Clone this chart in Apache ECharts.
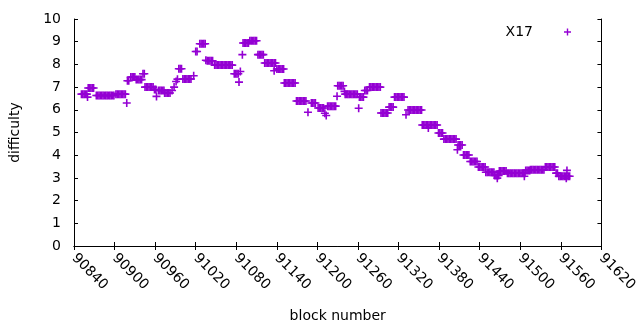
<!DOCTYPE html>
<html>
<head>
<meta charset="utf-8">
<script src="https://cdn.jsdelivr.net/npm/echarts@6/dist/echarts.min.js"></script>
<style>
  html, body { margin: 0; padding: 0; background: #fff; }
  #chart { width: 640px; height: 330px; }
</style>
</head>
<body>
<div id="chart"></div>
<script>
// 区块难度数据 [block number, difficulty]
const points = [
  [90851, 6.69], [90853, 6.69], [90855, 6.69], [90857, 6.69], [90859, 6.69], [90860, 6.56],
  [90861, 6.96], [90863, 6.96], [90865, 6.96], [90867, 6.96], [90869, 6.96],
  [90873, 6.63], [90875, 6.63], [90877, 6.63], [90879, 6.63], [90881, 6.63], [90883, 6.63], [90885, 6.63],
  [90887, 6.63], [90889, 6.63], [90891, 6.63], [90893, 6.63], [90895, 6.63], [90897, 6.63], [90899, 6.63],
  [90902, 6.69], [90904, 6.69], [90906, 6.69], [90908, 6.69], [90910, 6.69], [90912, 6.69], [90914, 6.69], [90916, 6.69],
  [90918, 6.30], [90919, 7.28], [90921, 7.28],
  [90924, 7.44], [90926, 7.44], [90928, 7.44], [90930, 7.44],
  [90932, 7.33], [90934, 7.33], [90936, 7.33], [90938, 7.33], [90940, 7.33],
  [90942, 7.59], [90944, 7.59],
  [90945, 7.0], [90947, 7.0], [90949, 7.0], [90951, 7.0], [90953, 7.0], [90955, 7.0], [90957, 7.0],
  [90959, 6.89], [90961, 6.89], [90962, 6.59],
  [90965, 6.85], [90967, 6.85], [90969, 6.85], [90971, 6.85], [90973, 6.85],
  [90974, 6.74], [90976, 6.74], [90978, 6.74], [90980, 6.74], [90982, 6.74],
  [90985, 6.85], [90988, 7.0], [90991, 7.25], [90993, 7.35],
  [90995, 7.81], [90997, 7.81], [90999, 7.81],
  [91001, 7.36], [91003, 7.36], [91005, 7.36], [91007, 7.36], [91009, 7.36], [91011, 7.36], [91013, 7.36],
  [91017, 7.50], [91020, 8.57], [91022, 8.57],
  [91026, 8.91], [91028, 8.91], [91030, 8.91], [91032, 8.91], [91034, 8.91],
  [91035, 8.18], [91037, 8.16], [91039, 8.16], [91041, 8.16], [91043, 8.16], [91045, 8.16],
  [91048, 7.97], [91050, 7.97], [91052, 7.97], [91054, 7.97], [91056, 7.97], [91058, 7.97], [91060, 7.97],
  [91062, 7.97], [91064, 7.97], [91066, 7.97], [91068, 7.97], [91070, 7.97], [91072, 7.97], [91074, 7.97],
  [91077, 7.59], [91079, 7.59], [91081, 7.59], [91083, 7.59],
  [91084, 7.22], [91086, 7.69], [91089, 8.43],
  [91090, 8.94], [91092, 8.94], [91094, 8.94], [91096, 8.94], [91098, 8.94],
  [91100, 9.04], [91102, 9.04], [91104, 9.04], [91106, 9.04], [91108, 9.04], [91110, 9.04],
  [91112, 8.43], [91114, 8.43], [91116, 8.43], [91118, 8.43], [91120, 8.43],
  [91122, 8.06], [91124, 8.06], [91126, 8.06], [91128, 8.06], [91130, 8.06], [91132, 8.06], [91134, 8.06],
  [91136, 8.06], [91138, 8.06], [91136, 7.72],
  [91140, 7.80], [91142, 7.80], [91144, 7.80], [91146, 7.80], [91148, 7.80], [91150, 7.80],
  [91151, 7.18], [91153, 7.18], [91155, 7.18], [91157, 7.18], [91159, 7.18], [91161, 7.18], [91163, 7.18],
  [91165, 7.18], [91167, 7.18],
  [91169, 6.39], [91171, 6.39], [91173, 6.39], [91175, 6.39], [91177, 6.39], [91179, 6.39], [91181, 6.39], [91183, 6.39],
  [91186, 5.89],
  [91191, 6.30], [91193, 6.30], [91195, 6.30], [91197, 6.30],
  [91201, 6.08], [91203, 6.08], [91205, 6.08], [91207, 6.08], [91209, 6.08],
  [91211, 5.85], [91213, 5.75],
  [91215, 6.16], [91217, 6.16], [91219, 6.16], [91221, 6.16], [91223, 6.16], [91225, 6.16], [91227, 6.16],
  [91229, 6.60],
  [91230, 7.06], [91232, 7.06], [91234, 7.06], [91236, 7.06], [91238, 7.06],
  [91240, 6.81],
  [91241, 6.69], [91243, 6.69], [91245, 6.69], [91247, 6.69], [91249, 6.69], [91251, 6.69], [91253, 6.69],
  [91255, 6.69], [91257, 6.69], [91259, 6.69],
  [91261, 6.07],
  [91262, 6.56], [91264, 6.56], [91266, 6.56], [91268, 6.56],
  [91270, 6.85], [91272, 6.85], [91274, 6.85],
  [91277, 7.0], [91279, 7.0], [91281, 7.0], [91283, 7.0], [91285, 7.0], [91287, 7.0], [91289, 7.0],
  [91291, 7.0], [91293, 7.0],
  [91294, 5.86], [91296, 5.86], [91298, 5.86], [91300, 5.86], [91302, 5.86], [91304, 5.86],
  [91306, 6.12], [91308, 6.12], [91310, 6.12], [91312, 6.12],
  [91314, 6.56], [91316, 6.56], [91318, 6.56], [91320, 6.56], [91322, 6.56], [91324, 6.56], [91326, 6.56], [91328, 6.56],
  [91331, 5.78],
  [91334, 5.99], [91336, 5.99], [91338, 5.99], [91340, 5.99], [91342, 5.99], [91344, 5.99], [91346, 5.99],
  [91348, 5.99], [91350, 5.99], [91352, 5.99], [91354, 5.99],
  [91355, 5.33], [91357, 5.33], [91359, 5.33], [91361, 5.33], [91363, 5.33], [91364, 5.20],
  [91365, 5.33], [91367, 5.33], [91369, 5.33], [91371, 5.33], [91373, 5.33], [91375, 5.33], [91377, 5.33],
  [91379, 4.98], [91381, 4.98], [91383, 4.98], [91385, 4.98],
  [91387, 4.71], [91389, 4.71], [91391, 4.71], [91393, 4.71], [91395, 4.71], [91397, 4.71], [91399, 4.71],
  [91401, 4.71], [91403, 4.71], [91405, 4.71],
  [91407, 4.24],
  [91408, 4.45], [91410, 4.45], [91412, 4.45], [91414, 4.45],
  [91416, 4.01], [91418, 4.01], [91420, 4.01], [91422, 4.01], [91424, 4.01],
  [91426, 3.72], [91428, 3.72], [91430, 3.72], [91432, 3.72], [91434, 3.72], [91436, 3.72],
  [91438, 3.48], [91440, 3.48], [91442, 3.48], [91444, 3.48], [91446, 3.48], [91448, 3.48],
  [91449, 3.25], [91451, 3.25], [91453, 3.25], [91455, 3.25], [91457, 3.25], [91459, 3.25], [91461, 3.25],
  [91462, 3.11], [91464, 3.11], [91466, 3.11], [91468, 3.11], [91466, 2.99],
  [91469, 3.30], [91471, 3.30], [91473, 3.30], [91475, 3.30], [91477, 3.30], [91479, 3.30],
  [91481, 3.21], [91483, 3.21], [91485, 3.21], [91487, 3.21], [91489, 3.21], [91491, 3.21], [91493, 3.21],
  [91495, 3.21], [91497, 3.21], [91499, 3.21], [91501, 3.21], [91503, 3.21], [91505, 3.21], [91507, 3.21],
  [91506, 3.07],
  [91508, 3.33], [91510, 3.33], [91512, 3.33], [91514, 3.33],
  [91515, 3.36], [91517, 3.36], [91519, 3.36], [91521, 3.36], [91523, 3.36], [91525, 3.36], [91527, 3.36],
  [91529, 3.36], [91531, 3.36], [91533, 3.36], [91535, 3.36],
  [91537, 3.48], [91539, 3.48], [91541, 3.48], [91543, 3.48], [91545, 3.48], [91547, 3.48], [91549, 3.48], [91551, 3.48],
  [91553, 3.21], [91555, 3.21],
  [91557, 3.07], [91559, 3.07], [91561, 3.07], [91563, 3.07], [91565, 3.07], [91567, 3.07], [91569, 3.07],
  [91571, 3.07], [91573, 3.07],
  [91569, 3.33], [91568, 2.99]
];

// 坐标轴范围
const xMin = 90840;
const xMax = 91620;
const xStep = 60;
const yMin = 0;
const yMax = 10;
const yStep = 1;

const seriesName = 'X17';
// "+" 点形状（填充路径）
const plusPath = 'path://M0,3.2H8V4.8H0ZM3.2,0H4.8V8H3.2Z';
const FONT = 'DejaVu Sans';
const COLOR = '#9400d3';

const chart = echarts.init(document.getElementById('chart'));

const axisLine = { show: true, lineStyle: { color: '#000', width: 1 } };
const axisTick = { show: true, inside: true, length: 4, lineStyle: { color: '#000' } };

const option = {
  animation: false,
  backgroundColor: '#fff',
  textStyle: { fontFamily: FONT },
  grid: { left: 74, right: 30, top: 19, bottom: 84 },
  legend: {
    data: [seriesName],
    right: 69,
    top: 25,
    padding: 0,
    align: 'right',
    itemWidth: 7,
    itemHeight: 7,
    icon: plusPath,
    textStyle: { fontFamily: FONT, fontSize: 14, color: '#000', padding: [0, 26, 0, 0] }
  },
  xAxis: [
    {
      type: 'value',
      min: xMin,
      max: xMax,
      interval: xStep,
      name: 'block number',
      nameLocation: 'middle',
      nameGap: 63,
      nameTextStyle: { fontFamily: FONT, fontSize: 14, color: '#000' },
      axisLine: axisLine,
      axisTick: axisTick,
      splitLine: { show: false },
      axisLabel: {
        rotate: -45,
        margin: 10,
        fontFamily: FONT,
        fontSize: 14,
        color: '#000',
        formatter: v => String(v)
      }
    },
    {
      type: 'value',
      position: 'top',
      min: xMin,
      max: xMax,
      interval: xStep,
      axisLine: axisLine,
      axisTick: axisTick,
      axisLabel: { show: false },
      splitLine: { show: false }
    }
  ],
  yAxis: [
    {
      type: 'value',
      min: yMin,
      max: yMax,
      interval: yStep,
      name: 'difficulty',
      nameLocation: 'middle',
      nameRotate: 90,
      nameGap: 52,
      nameTextStyle: { fontFamily: FONT, fontSize: 14, color: '#000' },
      axisLine: axisLine,
      axisTick: axisTick,
      splitLine: { show: false },
      axisLabel: { margin: 13, fontFamily: FONT, fontSize: 14, color: '#000' }
    },
    {
      type: 'value',
      position: 'right',
      min: yMin,
      max: yMax,
      interval: yStep,
      axisLine: axisLine,
      axisTick: axisTick,
      axisLabel: { show: false },
      splitLine: { show: false }
    }
  ],
  series: [
    {
      name: seriesName,
      type: 'scatter',
      data: points,
      symbol: plusPath,
      symbolSize: 8,
      itemStyle: { color: COLOR, opacity: 1 },
      emphasis: { disabled: true }
    }
  ]
};

chart.setOption(option);

window.addEventListener('resize', () => {
  chart.resize();
});
</script>
</body>
</html>
